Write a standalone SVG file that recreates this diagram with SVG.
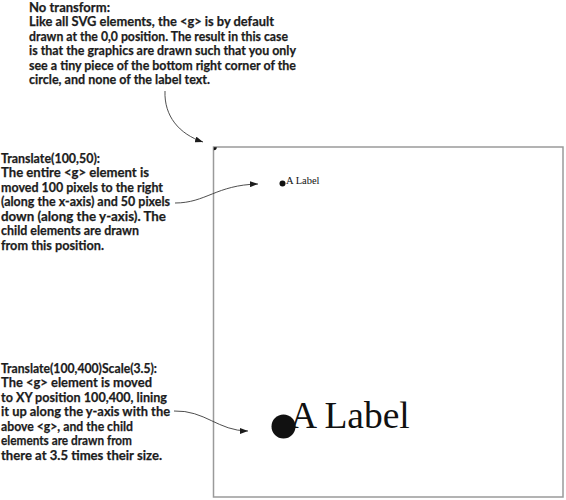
<svg xmlns="http://www.w3.org/2000/svg" width="566" height="500" viewBox="0 0 566 500">
<defs>
<style>
.note{font-family:Lato,"Open Sans","Liberation Sans",sans-serif;font-weight:bold;font-size:13.5px;fill:#1c1c1c;stroke:#1c1c1c;stroke-width:0.25}
.lbl{font-family:"Liberation Serif","Times New Roman",serif;fill:#111}
.conn{fill:none;stroke:#3a3a3a;stroke-width:0.9;marker-end:url(#arr)}
.frame{fill:#fff;stroke:#9a9a9a;stroke-width:1.5}
</style>
<marker id="arr" viewBox="0 0 8 6" refX="8" refY="3" markerWidth="8" markerHeight="6" markerUnits="userSpaceOnUse" orient="auto">
<path d="M0,0 L8,3 L0,6 z" fill="#1c1c1c"/>
</marker>
</defs>
<rect width="566" height="500" fill="#fff"/>

<g id="canvas">
<rect class="frame" x="213.5" y="147" width="349.5" height="350"/>
</g>

<g id="g-no-transform">
<path d="M213.8,147.3 h3 a3,3 0 0 1 -3,3 z" fill="#111"/>
</g>

<g id="g-translate">
<circle cx="282.5" cy="183.5" r="3" fill="#111"/>
<text class="lbl" x="286" y="184" font-size="10.5">A Label</text>
</g>

<g id="g-translate-scale">
<circle cx="283.5" cy="426.5" r="12" fill="#111"/>
<text class="lbl" x="290" y="427.5" font-size="37.5">A Label</text>
</g>

<g id="note-no-transform">
<text class="note" x="29" y="11.5" textLength="81" lengthAdjust="spacingAndGlyphs">No transform:</text>
<text class="note" x="29" y="26" textLength="245" lengthAdjust="spacingAndGlyphs">Like all SVG elements, the &lt;g&gt; is by default</text>
<text class="note" x="29" y="40.5" textLength="259" lengthAdjust="spacingAndGlyphs">drawn at the 0,0 position. The result in this case</text>
<text class="note" x="29" y="55" textLength="267" lengthAdjust="spacingAndGlyphs">is that the graphics are drawn such that you only</text>
<text class="note" x="29" y="69.5" textLength="267" lengthAdjust="spacingAndGlyphs">see a tiny piece of the bottom right corner of the</text>
<text class="note" x="29" y="84" textLength="181" lengthAdjust="spacingAndGlyphs">circle, and none of the label text.</text>
</g>

<g id="note-translate">
<text class="note" x="1" y="162.5" textLength="99" lengthAdjust="spacingAndGlyphs">Translate(100,50):</text>
<text class="note" x="1" y="177" textLength="148" lengthAdjust="spacingAndGlyphs">The entire &lt;g&gt; element is</text>
<text class="note" x="1" y="191.5" textLength="162" lengthAdjust="spacingAndGlyphs">moved 100 pixels to the right</text>
<text class="note" x="1" y="206" textLength="169" lengthAdjust="spacingAndGlyphs">(along the x-axis) and 50 pixels</text>
<text class="note" x="1" y="220.5" textLength="165" lengthAdjust="spacingAndGlyphs">down (along the y-axis). The</text>
<text class="note" x="1" y="235" textLength="138" lengthAdjust="spacingAndGlyphs">child elements are drawn</text>
<text class="note" x="1" y="249.5" textLength="103" lengthAdjust="spacingAndGlyphs">from this position.</text>
</g>

<g id="note-translate-scale">
<text class="note" x="1" y="372.5" textLength="156" lengthAdjust="spacingAndGlyphs">Translate(100,400)Scale(3.5):</text>
<text class="note" x="1" y="387" textLength="151" lengthAdjust="spacingAndGlyphs">The &lt;g&gt; element is moved</text>
<text class="note" x="1" y="401.5" textLength="166" lengthAdjust="spacingAndGlyphs">to XY position 100,400, lining</text>
<text class="note" x="1" y="416" textLength="169" lengthAdjust="spacingAndGlyphs">it up along the y-axis with the</text>
<text class="note" x="1" y="430.5" textLength="132" lengthAdjust="spacingAndGlyphs">above &lt;g&gt;, and the child</text>
<text class="note" x="1" y="445" textLength="131" lengthAdjust="spacingAndGlyphs">elements are drawn from</text>
<text class="note" x="1" y="459.5" textLength="161" lengthAdjust="spacingAndGlyphs">there at 3.5 times their size.</text>
</g>

<g id="connectors">
<path class="conn" d="M165,91 C164,116 179,134 203,142"/>
<path class="conn" d="M175,203 C206,203 216,185 258,184"/>
<path class="conn" d="M174,411 C205,410 218,431 248,431"/>
</g>
</svg>
